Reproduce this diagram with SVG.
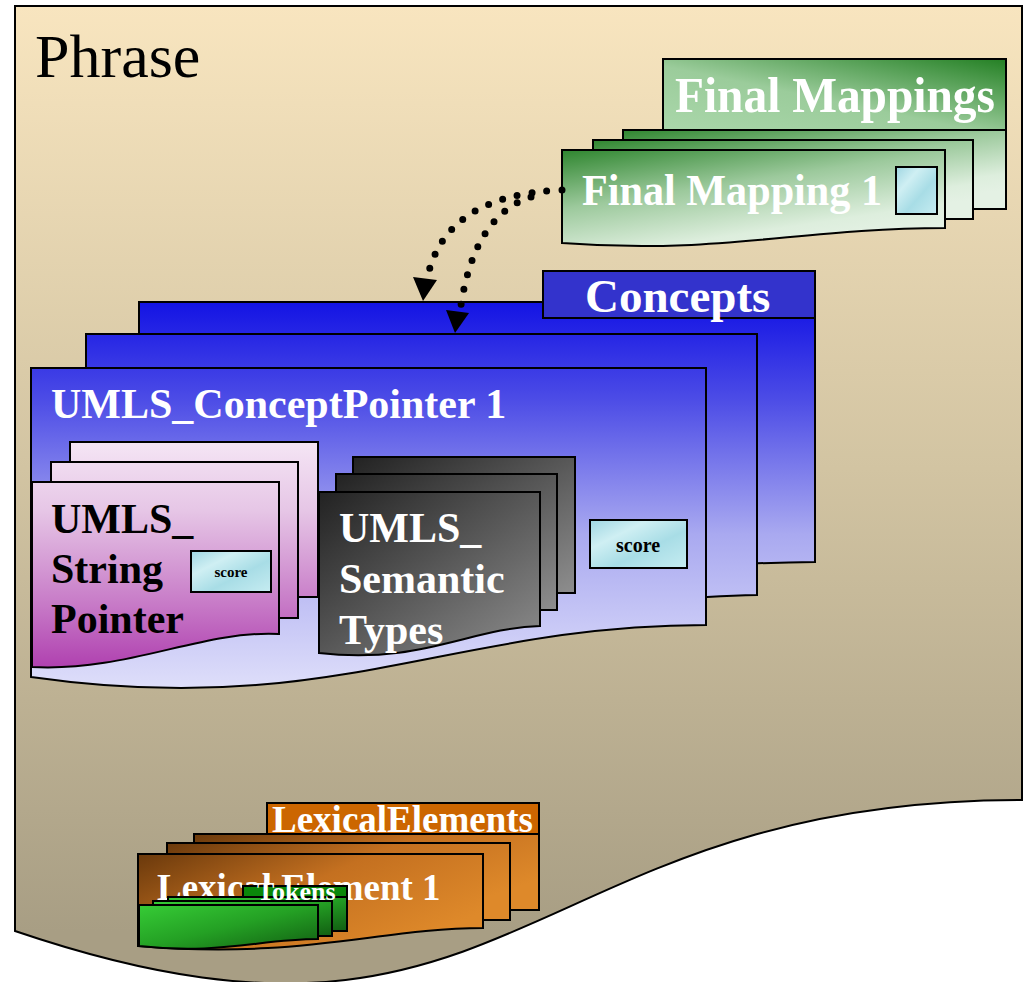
<svg xmlns="http://www.w3.org/2000/svg" width="1029" height="982" viewBox="0 0 1029 982">
<defs>
<style>
.s{stroke:#000;stroke-width:2;stroke-linejoin:miter}
.t{font-family:"Liberation Serif","Times New Roman",serif;font-weight:bold;fill:#fff}
.k{fill:#000}
.con{fill:none;stroke:#000;stroke-width:7;stroke-linecap:round;stroke-dasharray:0 15}
</style>
<linearGradient id="gPhrase" gradientUnits="userSpaceOnUse" x1="0" y1="6" x2="0" y2="931">
<stop offset="0" stop-color="#F8E5BF"/><stop offset="0.5" stop-color="#D2C4A2"/><stop offset="1" stop-color="#A89E84"/>
</linearGradient>
<linearGradient id="gFmHead" x1="0" y1="1" x2="1" y2="0">
<stop offset="0" stop-color="#AAD7AA"/><stop offset="0.45" stop-color="#9BCC9B"/><stop offset="1" stop-color="#248024"/>
</linearGradient>
<linearGradient id="gFm" x1="0" y1="0" x2="0.6" y2="1">
<stop offset="0" stop-color="#2F862F"/><stop offset="0.45" stop-color="#9CC99C"/><stop offset="0.85" stop-color="#DDEEDD"/><stop offset="1" stop-color="#E4F1E4"/>
</linearGradient>
<linearGradient id="gCon" gradientUnits="userSpaceOnUse" x1="0" y1="300" x2="0" y2="690">
<stop offset="0" stop-color="#1212E4"/><stop offset="0.25" stop-color="#4B4BE6"/><stop offset="0.6" stop-color="#A9A9F0"/><stop offset="1" stop-color="#DFDFFA"/>
</linearGradient>
<linearGradient id="gPink" gradientUnits="userSpaceOnUse" x1="0" y1="440" x2="0" y2="675">
<stop offset="0" stop-color="#F5E6F5"/><stop offset="0.3" stop-color="#E6C6E6"/><stop offset="0.7" stop-color="#C77AC7"/><stop offset="1" stop-color="#AD3AAD"/>
</linearGradient>
<linearGradient id="gGray" x1="0" y1="0" x2="1" y2="1">
<stop offset="0" stop-color="#222"/><stop offset="1" stop-color="#8E8E8E"/>
</linearGradient>
<linearGradient id="gScore" x1="0" y1="0" x2="1" y2="1">
<stop offset="0" stop-color="#9FD6E2"/><stop offset="0.3" stop-color="#CFEFF3"/><stop offset="0.6" stop-color="#A8DDE6"/><stop offset="1" stop-color="#C6ECF1"/>
</linearGradient>
<linearGradient id="gLex" x1="0" y1="0" x2="1" y2="0.6">
<stop offset="0" stop-color="#6A390C"/><stop offset="0.5" stop-color="#C47020"/><stop offset="1" stop-color="#DE892A"/>
</linearGradient>
<linearGradient id="gTok" x1="0" y1="0" x2="1" y2="1">
<stop offset="0" stop-color="#36CC36"/><stop offset="0.5" stop-color="#24A024"/><stop offset="1" stop-color="#125E12"/>
</linearGradient>
</defs>

<g id="phrase">
<path class="s" fill="url(#gPhrase)" d="M15,6 H1022 V800 C518,800 518,1102 15,931 Z"/>
<text x="35" y="77" font-family="Liberation Serif, Times New Roman, serif" font-size="62" class="k">Phrase</text>
</g>

<g id="final-mappings">
<rect class="s" x="623" y="130" width="383" height="79" fill="url(#gFm)"/>
<rect class="s" x="663" y="59" width="343" height="71" fill="url(#gFmHead)"/>
<text class="t" x="675" y="112" font-size="50" textLength="320" lengthAdjust="spacingAndGlyphs">Final Mappings</text>
<rect class="s" x="593" y="140" width="380" height="79" fill="url(#gFm)"/>
</g>
<g id="final-mapping-1">
<path class="s" fill="url(#gFm)" d="M562,150 H945 V228 C800,228 720,255 562,243 Z"/>
<text class="t" x="582" y="205" font-size="45" textLength="300" lengthAdjust="spacingAndGlyphs">Final Mapping 1</text>
<rect class="s" x="896" y="167" width="41" height="47" fill="url(#gScore)"/>
</g>

<g id="concepts">
<path class="s" fill="url(#gCon)" d="M139,302 H815 V562 C600,564 400,600 139,610 Z"/>
<rect class="s" x="543" y="271" width="272" height="47" fill="#3333CC"/>
<text class="t" x="585" y="312" font-size="47">Concepts</text>
<path class="s" fill="url(#gCon)" d="M86,334 H757 V595 C600,598 400,640 86,650 Z"/>
</g>
<g id="umls-conceptpointer-1">
<path class="s" fill="url(#gCon)" d="M31,368 H706 V625 C450,625 330,720 31,677 Z"/>
<text class="t" x="51" y="418" font-size="42">UMLS_ConceptPointer 1</text>
</g>

<g id="umls-string-pointer">
<rect class="s" x="70" y="442" width="248" height="155" fill="url(#gPink)"/>
<rect class="s" x="51" y="462" width="247" height="156" fill="url(#gPink)"/>
<path class="s" fill="url(#gPink)" d="M32,482 H279 V634 C200,630 130,672 32,667 Z"/>
<text x="51" font-size="42" font-family="Liberation Serif, Times New Roman, serif" font-weight="bold" class="k"><tspan x="51" y="533">UMLS_</tspan><tspan x="51" y="583">String</tspan><tspan x="51" y="633">Pointer</tspan></text>
<rect class="s" x="191" y="551" width="80" height="41" fill="url(#gScore)"/>
<text x="231" y="577" font-size="15" text-anchor="middle" font-family="Liberation Serif, Times New Roman, serif" font-weight="bold" class="k">score</text>
</g>

<g id="umls-semantic-types">
<rect class="s" x="353" y="457" width="222" height="136" fill="url(#gGray)"/>
<rect class="s" x="336" y="474" width="221" height="136" fill="url(#gGray)"/>
<path class="s" fill="url(#gGray)" d="M319,492 H540 V626 C470,628 420,665 319,653 Z"/>
<text class="t" font-size="42"><tspan x="339" y="542">UMLS_</tspan><tspan x="339" y="593">Semantic</tspan><tspan x="339" y="644">Types</tspan></text>
</g>

<g id="concept-score">
<rect class="s" x="590" y="520" width="97" height="48" fill="url(#gScore)"/>
<text x="638" y="552" font-size="20" text-anchor="middle" font-family="Liberation Serif, Times New Roman, serif" font-weight="bold" class="k">score</text>
</g>

<g id="lexical-elements">
<rect class="s" x="194" y="834" width="345" height="76" fill="url(#gLex)"/>
<rect class="s" x="267" y="803" width="272" height="31" fill="#CC6600"/>
<text class="t" x="272" y="832" font-size="37">LexicalElements</text>
<rect class="s" x="167" y="843" width="343" height="77" fill="url(#gLex)"/>
</g>
<g id="lexical-element-1">
<path class="s" fill="url(#gLex)" d="M138,854 H483 V928 C380,928 300,960 138,946 Z"/>
<text class="t" x="157" y="900" font-size="37">Lexical Element 1</text>
</g>

<g id="tokens">
<rect class="s" x="243" y="886" width="104" height="45" fill="#0A870A"/>
<rect class="s" x="168" y="897" width="179" height="34" fill="url(#gTok)"/>
<rect class="s" x="153" y="901" width="179" height="35" fill="url(#gTok)"/>
<path class="s" fill="url(#gTok)" d="M139,905 H318 V939 C260,939 220,955 139,946 Z"/>
<text class="t" x="257" y="900" font-size="26">Tokens</text>
</g>

<g id="connectors">
<path class="con" d="M562,190 Q440,195 426,285"/>
<path class="con" d="M531,197 Q475,215 461,305"/>
<path d="M413,277 L437,280 L423,301 Z" fill="#000"/>
<path d="M446,310 L469,313 L455,333 Z" fill="#000"/>
</g>
</svg>
